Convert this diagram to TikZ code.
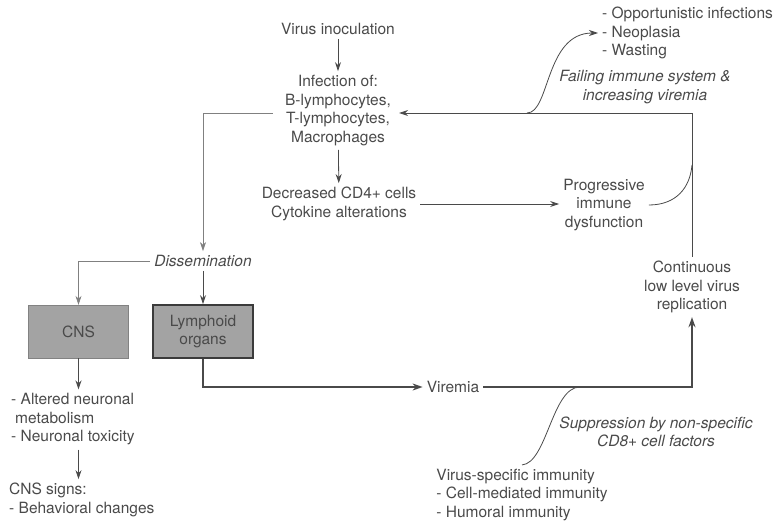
\documentclass[tikz,border=0pt]{standalone}
\usepackage{fontspec}
\setmainfont{TeX Gyre Heros}
\usetikzlibrary{arrows.meta}

\definecolor{ink}{HTML}{4A4A4A}
\definecolor{boxgray}{HTML}{A3A3A3}

\begin{document}
\begin{tikzpicture}[x=1pt,y=-1pt,
	lbl/.style={align=center,inner sep=4pt,text=ink,font=\fontsize{15.5}{18.5}\selectfont},
	lbll/.style={lbl,align=left},
	note/.style={lbl,font=\fontsize{15.5}{18.5}\selectfont\itshape},
	organ/.style={lbl,fill=boxgray,minimum width=100pt,minimum height=53pt},
	arr/.style={draw=ink,line width=0.8pt,-{Stealth[length=9pt,width=6pt]}},
	faint/.style={arr,draw=ink!70,line width=0.6pt},
	heavy/.style={arr,line width=1.8pt,-{Stealth[length=10pt,width=7pt]}},
	link/.style={draw=ink,line width=0.8pt}]

	\useasboundingbox (0,0) rectangle (777,522);

	% top column
	\node[lbl] (inoc) at (338,29) {Virus inoculation};
	\node[lbl] (infect) at (338,110.5) {Infection of:\\B-lymphocytes,\\T-lymphocytes,\\Macrophages};
	\node[lbl] (decr) at (339,204) {Decreased CD4+ cells\\Cytokine alterations};
	\node[lbl] (prog) at (604,205) {Progressive\\immune\\dysfunction};

	% right side
	\node[lbll,anchor=west] (outc) at (598,33) {- Opportunistic infections\\- Neoplasia\\- Wasting};
	\node[note] (fail) at (645,87) {Failing immune system \&\\increasing viremia};
	\node[lbl] (cont) at (692,287) {Continuous\\low level virus\\replication};

	% left side
	\node[note] (dissem) at (203,261) {Dissemination};
	\node[organ,draw=boxgray!80!black,line width=0.4pt] (cns) at (78.5,331.5) {CNS};
	\node[organ,draw=ink!80!black,line width=1.6pt] (lymph) at (203,331.5) {Lymphoid\\organs};
	\node[lbll,anchor=west] (alter) at (7,419.5) {- Altered neuronal\\\hspace*{4pt}metabolism\\- Neuronal toxicity};
	\node[lbll,anchor=west] (signs) at (5,500) {CNS signs:\\- Behavioral changes};

	% bottom
	\node[lbl] (viremia) at (453,387) {Viremia};
	\node[note] (supp) at (656,432) {Suppression by non-specific\\CD8+ cell factors};
	\node[lbll] (immun) at (522,495) {Virus-specific immunity\\- Cell-mediated immunity\\- Humoral immunity};

	\coordinate (fb) at (692,113);
	\coordinate (fork) at (527,113);
	\coordinate (join) at (692,165);
	\coordinate (supjoin) at (580,387);

	% main chain
	\draw[arr] (inoc) -- (infect);
	\draw[arr] (infect) -- (decr);
	\draw[arr] (decr.east) -- (decr.east -| prog.west);

	% feedback to infection
	\draw[arr] (cont.north) -- (fb) -- ([xshift=4pt]fb -| infect.east);
	\draw[arr] (fork) .. controls (550,113) and (545,33) .. (outc.west);
	\draw[link] (prog.east) .. controls (676,205) and (690,188) .. (join);

	% dissemination
	\draw[faint] ([xshift=-8pt]infect.west |- fb) -| (dissem.north);
	\draw[faint] (dissem.west) -| (cns.north);
	\draw[arr] (dissem) -- (lymph);
	\draw[arr] (cns.south) -- (cns.south |- alter.north);
	\draw[arr] (cns.south |- alter.south) -- (cns.south |- signs.north);

	% viremia loop
	\draw[heavy] (lymph.south) |- (viremia.west);
	\draw[heavy] (viremia.east) -| (cont.south);
	\draw[link] (immun.north) .. controls (547,463) and (552,387) .. (supjoin);

\end{tikzpicture}
\end{document}
